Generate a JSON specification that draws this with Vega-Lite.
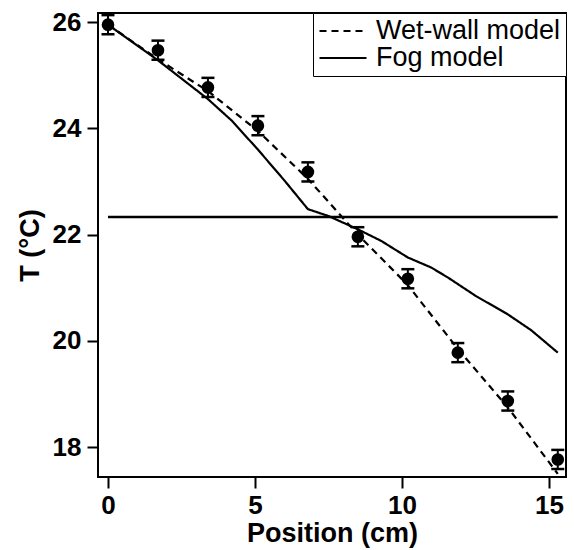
{
  "$schema": "https://vega.github.io/schema/vega-lite/v6.json",
  "width": 468,
  "height": 464,
  "autosize": {"type": "none"},
  "padding": {"left": 98, "top": 13, "right": 8, "bottom": 73},
  "background": "white",
  "config": {
    "view": {"stroke": "black", "strokeWidth": 2},
    "font": "Liberation Sans",
    "axis": {
      "domain": false,
      "grid": false,
      "ticks": true,
      "tickColor": "black",
      "tickWidth": 2,
      "tickSize": 11,
      "labelFont": "Liberation Sans",
      "labelFontWeight": "bold",
      "labelFontSize": 26,
      "labelColor": "black",
      "titleFont": "Liberation Sans",
      "titleFontWeight": "bold",
      "titleFontSize": 27,
      "titleColor": "black"
    }
  },
  "datasets": {
    "obs": [
      {"pos": 0, "T": 25.95, "lo": 25.77, "hi": 26.13},
      {"pos": 1.7, "T": 25.47, "lo": 25.29, "hi": 25.65},
      {"pos": 3.4, "T": 24.77, "lo": 24.59, "hi": 24.95},
      {"pos": 5.1, "T": 24.05, "lo": 23.87, "hi": 24.23},
      {"pos": 6.8, "T": 23.18, "lo": 23.0, "hi": 23.36},
      {"pos": 8.5, "T": 21.96, "lo": 21.78, "hi": 22.14},
      {"pos": 10.2, "T": 21.17, "lo": 20.99, "hi": 21.35},
      {"pos": 11.9, "T": 19.78, "lo": 19.6, "hi": 19.96},
      {"pos": 13.6, "T": 18.87, "lo": 18.69, "hi": 19.05},
      {"pos": 15.3, "T": 17.77, "lo": 17.59, "hi": 17.95}
    ],
    "models": [
      {"model": "Wet-wall model", "pos": 0, "T": 25.95},
      {"model": "Wet-wall model", "pos": 1.7, "T": 25.3},
      {"model": "Wet-wall model", "pos": 3.4, "T": 24.7},
      {"model": "Wet-wall model", "pos": 5.1, "T": 23.95},
      {"model": "Wet-wall model", "pos": 6.8, "T": 23.05},
      {"model": "Wet-wall model", "pos": 8.5, "T": 22.0},
      {"model": "Wet-wall model", "pos": 10.2, "T": 21.05},
      {"model": "Wet-wall model", "pos": 11.9, "T": 19.85},
      {"model": "Wet-wall model", "pos": 13.6, "T": 18.75},
      {"model": "Wet-wall model", "pos": 15.3, "T": 17.5},
      {"model": "Fog model", "pos": 0, "T": 25.95},
      {"model": "Fog model", "pos": 1.7, "T": 25.28},
      {"model": "Fog model", "pos": 3.4, "T": 24.55},
      {"model": "Fog model", "pos": 4.2, "T": 24.15},
      {"model": "Fog model", "pos": 5.1, "T": 23.6},
      {"model": "Fog model", "pos": 6.0, "T": 23.02},
      {"model": "Fog model", "pos": 6.8, "T": 22.48},
      {"model": "Fog model", "pos": 7.5, "T": 22.35},
      {"model": "Fog model", "pos": 8.5, "T": 22.1},
      {"model": "Fog model", "pos": 9.3, "T": 21.88},
      {"model": "Fog model", "pos": 10.2, "T": 21.57},
      {"model": "Fog model", "pos": 11.0, "T": 21.38},
      {"model": "Fog model", "pos": 11.6, "T": 21.18},
      {"model": "Fog model", "pos": 12.5, "T": 20.85},
      {"model": "Fog model", "pos": 13.6, "T": 20.5},
      {"model": "Fog model", "pos": 14.4, "T": 20.2},
      {"model": "Fog model", "pos": 15.3, "T": 19.78}
    ],
    "hline": [
      {"pos": 0, "pos2": 15.3, "T": 22.33}
    ]
  },
  "layer": [
    {
      "data": {"name": "hline"},
      "mark": {"type": "rule", "color": "black", "strokeWidth": 2.5},
      "encoding": {
        "x": {"field": "pos", "type": "quantitative", "scale": {"domain": [-0.34, 15.58], "nice": false, "zero": false}, "axis": {"values": [0, 5, 10, 15], "title": "Position (cm)", "labelPadding": 4, "titlePadding": 2}},
        "x2": {"field": "pos2"},
        "y": {"field": "T", "type": "quantitative", "scale": {"domain": [17.44, 26.17], "nice": false, "zero": false}, "axis": {"values": [18, 20, 22, 24, 26], "title": "T (°C)", "labelPadding": 6, "titlePadding": 8}}
      }
    },
    {
      "data": {"name": "models"},
      "mark": {"type": "line", "color": "black", "strokeWidth": 2.2},
      "encoding": {
        "x": {"field": "pos", "type": "quantitative"},
        "y": {"field": "T", "type": "quantitative"},
        "strokeDash": {
          "field": "model",
          "type": "nominal",
          "scale": {"domain": ["Wet-wall model", "Fog model"], "range": [[7, 5], [1, 0]]},
          "legend": {
            "title": null,
            "orient": "top-right",
            "offset": 0,
            "strokeColor": "black",
            "fillColor": "white",
            "padding": 5,
            "rowPadding": 0,
            "clipHeight": 26,
            "symbolType": "stroke",
            "symbolSize": 2209,
            "symbolStrokeWidth": 2.2,
            "symbolStrokeColor": "black",
            "labelFont": "Liberation Sans",
            "labelFontSize": 27,
            "labelColor": "black",
            "labelOffset": 8,
            "labelLimit": 0
          }
        }
      }
    },
    {
      "data": {"name": "obs"},
      "mark": {"type": "rule", "color": "black", "strokeWidth": 2, "opacity": 1},
      "encoding": {
        "x": {"field": "pos", "type": "quantitative"},
        "y": {"field": "lo", "type": "quantitative"},
        "y2": {"field": "hi"}
      }
    },
    {
      "data": {"name": "obs"},
      "mark": {"type": "tick", "orient": "horizontal", "color": "black", "opacity": 1, "size": 13, "thickness": 2.5},
      "encoding": {
        "x": {"field": "pos", "type": "quantitative"},
        "y": {"field": "lo", "type": "quantitative"}
      }
    },
    {
      "data": {"name": "obs"},
      "mark": {"type": "tick", "orient": "horizontal", "color": "black", "opacity": 1, "size": 13, "thickness": 2.5},
      "encoding": {
        "x": {"field": "pos", "type": "quantitative"},
        "y": {"field": "hi", "type": "quantitative"}
      }
    },
    {
      "data": {"name": "obs"},
      "mark": {"type": "point", "shape": "circle", "filled": true, "color": "black", "opacity": 1, "size": 160},
      "encoding": {
        "x": {"field": "pos", "type": "quantitative"},
        "y": {"field": "T", "type": "quantitative"}
      }
    }
  ]
}
